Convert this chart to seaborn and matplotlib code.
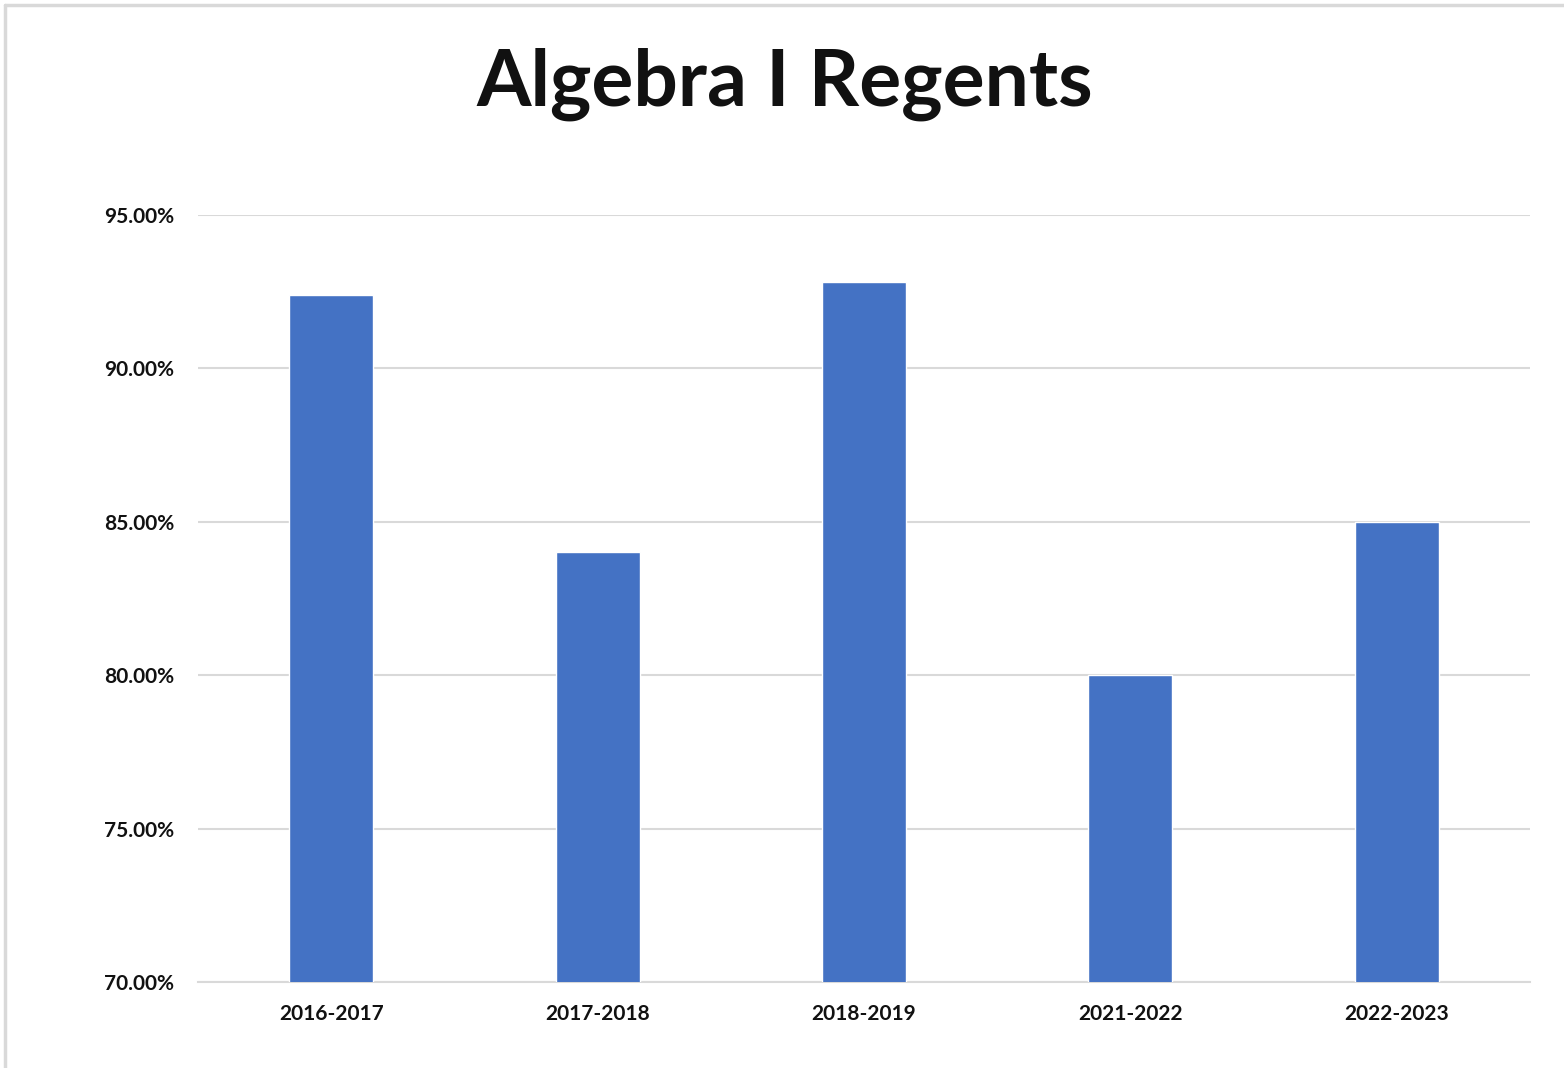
import seaborn as sns
import matplotlib.pyplot as plt
from matplotlib.lines import Line2D
from matplotlib.ticker import FuncFormatter

years = ['2016-2017', '2017-2018', '2018-2019', '2021-2022', '2022-2023']
passing = [92.4, 84.0, 92.8, 80.0, 85.0]
yticks = [70, 75, 80, 85, 90, 95]

sns.set_style('white')
plt.rcParams['font.family'] = ['Lato', 'DejaVu Sans']

fig = plt.figure(figsize=(15.64, 10.68), dpi=100)
ax = fig.add_axes([198/1564, 86/1068, 1332/1564, 767/1068])

sns.barplot(x=years, y=passing, color='#4472C4', width=0.315, saturation=1, ax=ax, zorder=3)

ax.set_ylim(70, 95)
ax.set_yticks(yticks)
ax.yaxis.set_major_formatter(FuncFormatter(lambda v, p: f'{v:.2f}%'))
ax.grid(axis='y', color='#d9d9d9', linewidth=1.5, zorder=0)
ax.grid(axis='x', visible=False)
for s in ['top', 'right', 'left']:
    ax.spines[s].set_visible(False)
ax.spines['bottom'].set_color('#d9d9d9')
ax.spines['bottom'].set_linewidth(1.5)
ax.tick_params(axis='both', length=0, labelsize=15, labelcolor='#111111')
ax.tick_params(axis='y', pad=17)
ax.tick_params(axis='x', pad=16)
for lbl in ax.get_xticklabels() + ax.get_yticklabels():
    lbl.set_fontweight('bold')

fig.text(0.502, 0.921, 'Algebra I Regents', ha='center', va='center',
         fontsize=56.5, fontweight='bold', color='#111111')

# light frame around the chart
fig.add_artist(Line2D([5/1564, 1], [1 - 5/1068, 1 - 5/1068], color='#d9d9d9', lw=2.5))
fig.add_artist(Line2D([5/1564, 5/1564], [0, 1 - 5/1068], color='#d9d9d9', lw=2.5))

fig.savefig('out.png', dpi=100)
